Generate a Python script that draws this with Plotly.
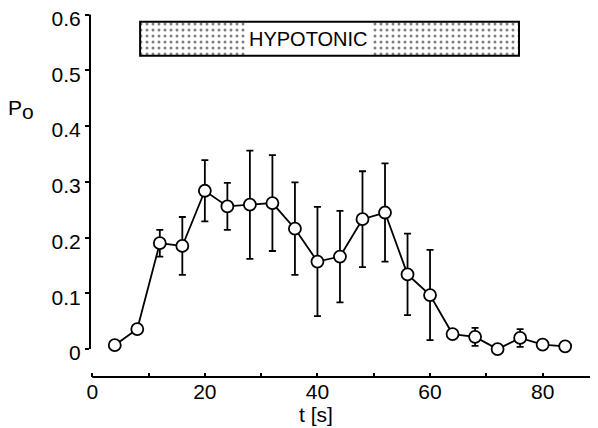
import plotly.graph_objects as go

# ---- data ----
t_s = [4, 8, 12, 16, 20, 24, 28, 32, 36, 40, 44, 48, 52, 56, 60, 64, 68, 72, 76, 80, 84]
p_open = [0.007, 0.036, 0.190, 0.185, 0.284, 0.256, 0.259, 0.262, 0.216, 0.157, 0.166,
          0.233, 0.245, 0.134, 0.097, 0.027, 0.022, 0.000, 0.020, 0.008, 0.005]
p_err = [0.006, 0.007, 0.024, 0.052, 0.055, 0.042, 0.097, 0.086, 0.083, 0.098, 0.082,
         0.086, 0.088, 0.073, 0.081, 0.006, 0.016, 0.005, 0.016, 0.005, 0.006]

y_tickvals = [0, 0.1, 0.2, 0.3, 0.4, 0.5, 0.6]
y_ticktext = ["0", "0.1", "0.2", "0.3", "0.4", "0.5", "0.6"]
x_tickvals = [0, 20, 40, 60, 80]
x_ticktext = ["0", "20", "40", "60", "80"]

# hypotonic bar (time span and label gap)
hypo_start, hypo_end = 8.5, 75.8
label_from, label_to = 27.2, 49.7
bar_low, bar_high = 0.526, 0.587
hypo_label = "HYPOTONIC"

x_range = [-0.4, 89.3]
y_range = [-0.05, 0.61]

FONT = "Liberation Sans, Arial, sans-serif"

# page is shown with the default 8px body margin -> figure is 8px smaller
OFF = 8
W, H = 598 - OFF, 428 - OFF
ml, mr, mt, mb = 90 - OFF, 3, 9 - OFF, 51
pw, ph = W - ml - mr, H - mt - mb


def page_px(x, y):
    """page pixel (as seen in the screenshot) -> paper coordinates"""
    fx, fy = x - OFF, y - OFF
    return (fx - ml) / pw, (H - mb - fy) / ph


fig = go.Figure()

# stippled parts of the bar
for a, b in [(hypo_start, label_from), (label_to, hypo_end)]:
    fig.add_trace(go.Scatter(
        x=[a, b, b, a, a], y=[bar_low, bar_low, bar_high, bar_high, bar_low],
        mode="lines", line=dict(width=0), fill="toself",
        fillcolor="white",
        fillpattern=dict(shape=".", size=6, solidity=0.2, fgcolor="black", bgcolor="white"),
        hoverinfo="skip", showlegend=False))

# data
fig.add_trace(go.Scatter(
    x=t_s, y=p_open, mode="lines+markers",
    line=dict(color="black", width=1.8),
    marker=dict(symbol="circle", size=12, color="white", line=dict(color="black", width=1.8)),
    error_y=dict(type="data", array=p_err, visible=True, color="black", thickness=1.8, width=3.5),
    showlegend=False, cliponaxis=False))

# bar outline + label
fig.add_shape(type="rect", xref="x", yref="y", x0=hypo_start, x1=hypo_end, y0=bar_low, y1=bar_high,
              line=dict(color="black", width=2), fillcolor="rgba(0,0,0,0)")
fig.add_annotation(x=(label_from + label_to) / 2, y=(bar_low + bar_high) / 2, xref="x", yref="y",
                   text=hypo_label, showarrow=False, xanchor="center", yanchor="middle",
                   font=dict(family=FONT, size=20, color="black"))

# axis lines
fig.add_shape(type="line", xref="paper", yref="y", x0=0, x1=0, y0=0, y1=0.6,
              line=dict(color="black", width=2))
fig.add_shape(type="line", xref="x", yref="paper", x0=0, x1=x_range[1], y0=0, y1=0,
              line=dict(color="black", width=2))

# axis titles
px_, py_ = page_px(21, 109)
fig.add_annotation(x=px_, y=py_, xref="paper", yref="paper",
                   text="P<sub><span style='font-size:21px'>o</span></sub>", showarrow=False,
                   xanchor="center", yanchor="middle", font=dict(family=FONT, size=21, color="black"))
px_, py_ = page_px(316, 415)
fig.add_annotation(x=px_, y=py_, xref="paper", yref="paper", text="t [s]", showarrow=False,
                   xanchor="center", yanchor="middle", font=dict(family=FONT, size=21, color="black"))

fig.update_layout(
    width=W, height=H, margin=dict(l=ml, r=mr, t=mt, b=mb, autoexpand=False),
    plot_bgcolor="white", paper_bgcolor="white",
    font=dict(family=FONT, size=21, color="black"),
    xaxis=dict(range=x_range, showgrid=False, zeroline=False, showline=False, automargin=False,
               tickvals=x_tickvals, ticktext=x_ticktext, ticks="inside", ticklen=4,
               tickwidth=1.5, tickcolor="black",
               minor=dict(dtick=10, tick0=0, ticks="inside", ticklen=4, tickwidth=1.5, tickcolor="black",
                          showgrid=False),
               tickfont=dict(family=FONT, size=21)),
    yaxis=dict(range=y_range, showgrid=False, zeroline=False, showline=False, automargin=False,
               tickvals=y_tickvals, ticktext=y_ticktext, ticks="outside", ticklen=4,
               ticklabeloverflow="allow", ticklabelshift=4,
               tickwidth=1.5, tickcolor="black", tickfont=dict(family=FONT, size=21)),
)

fig.write_html("out.html")
